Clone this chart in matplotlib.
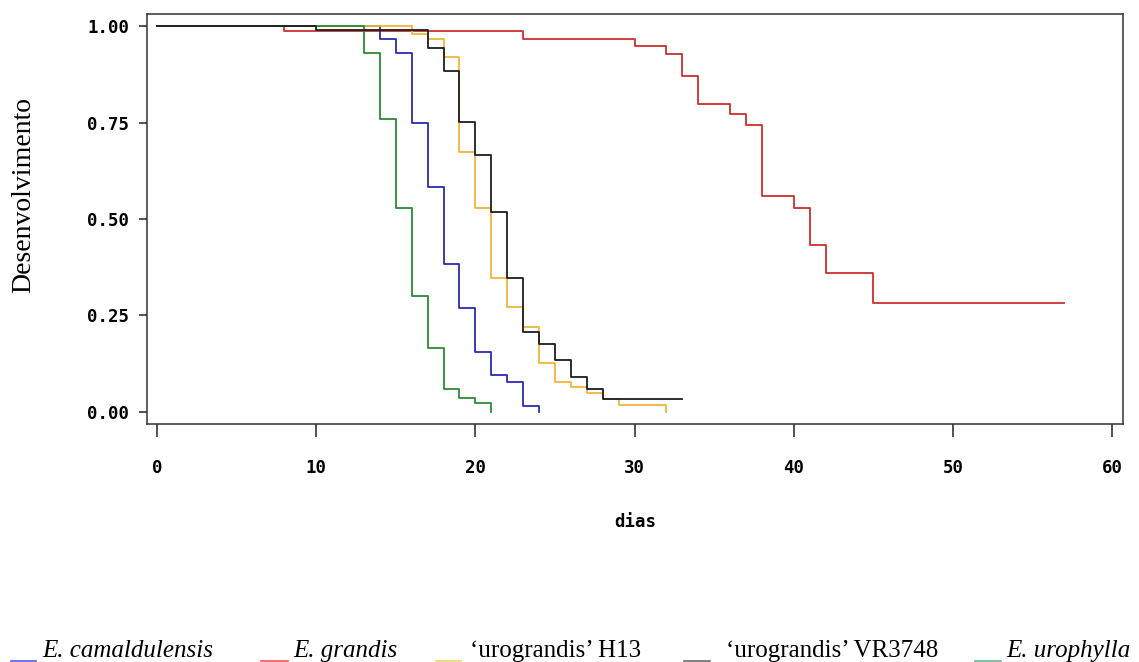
import numpy as np
import matplotlib
matplotlib.use("Agg")
import matplotlib.pyplot as plt
from matplotlib.lines import Line2D

# survival-type step curves: day of each drop and the level after it
t_grandis = [0, 8, 23, 30, 32, 33, 34, 36, 37, 38, 40, 41, 42, 45, 57]
s_grandis = [1.0, 0.988, 0.966, 0.948, 0.927, 0.870, 0.797, 0.771, 0.744,
             0.560, 0.528, 0.433, 0.359, 0.283, 0.283]

t_camal = [0, 14, 15, 16, 17, 18, 19, 20, 21, 22, 23, 24]
s_camal = [1.0, 0.966, 0.929, 0.748, 0.582, 0.383, 0.269, 0.155, 0.096,
           0.079, 0.016, 0.0]

t_h13 = [0, 16, 17, 18, 19, 20, 21, 22, 23, 24, 25, 26, 27, 28, 29, 32]
s_h13 = [1.0, 0.979, 0.967, 0.920, 0.674, 0.528, 0.346, 0.271, 0.219,
         0.128, 0.079, 0.064, 0.050, 0.033, 0.018, 0.0]

t_uro = [0, 13, 14, 15, 16, 17, 18, 19, 20, 21]
s_uro = [1.0, 0.931, 0.758, 0.528, 0.301, 0.165, 0.059, 0.035, 0.024, 0.0]

t_vr = [0, 10, 17, 18, 19, 20, 21, 22, 23, 24, 25, 26, 27, 28, 33]
s_vr = [1.0, 0.990, 0.944, 0.884, 0.752, 0.666, 0.519, 0.346, 0.206,
        0.175, 0.136, 0.090, 0.059, 0.033, 0.033]

x_ticks = [0, 10, 20, 30, 40, 50, 60]
y_ticks = [0.0, 0.25, 0.50, 0.75, 1.0]

labels = ["E. camaldulensis", "E. grandis", "\u2018urograndis\u2019 H13",
          "\u2018urograndis\u2019 VR3748", "E. urophylla"]
label_italic = [True, True, False, False, True]

c_red, c_blue, c_yel, c_grn, c_blk = "#c9302c", "#2b2bb0", "#f0b53a", "#2c8a36", "#1e1e1e"
leg_cols = ["#5a5af2", "#f05555", "#f2d46e", "#6a6a6a", "#6fb48e"]

W, H = 1139, 662
fig = plt.figure(figsize=(W / 100, H / 100), dpi=100, facecolor="white")
ax = fig.add_axes([146.7 / W, 1 - 424 / H, (1123.3 - 146.7) / W, (424 - 14) / H])

lw = 1.3
ax.step(t_grandis, s_grandis, where="post", color=c_red, lw=lw)
ax.step(t_camal, s_camal, where="post", color=c_blue, lw=lw)
ax.step(t_h13, s_h13, where="post", color=c_yel, lw=lw)
ax.step(t_uro, s_uro, where="post", color=c_grn, lw=lw)
ax.step(t_vr, s_vr, where="post", color=c_blk, lw=lw)

ax.set_xlim(-0.647, 60.70)
ax.set_ylim(-0.0311, 1.0311)

tickfont = dict(family="DejaVu Sans Mono", weight="bold", size=12.5)
ax.set_xticks(x_ticks)
ax.set_xticklabels([str(v) for v in x_ticks], **tickfont)
ax.set_yticks(y_ticks)
ax.set_yticklabels(["%.2f" % v for v in y_ticks], **tickfont)
ax.tick_params(axis="x", length=9.4, width=1.1, pad=16, color="#222222")
ax.tick_params(axis="y", length=5.8, width=1.1, pad=7, color="#222222")
for sp in ax.spines.values():
    sp.set_linewidth(1.1)
    sp.set_color("#333333")

ax.set_xlabel("dias", fontdict=tickfont, labelpad=26)

fig.text(24 / W, 1 - 195 / H, "Desenvolvimento", rotation=90, ha="center",
         va="center", family="Liberation Serif", fontsize=20)

# legend row at the foot of the figure
text_x = [42, 293, 470, 726, 1006]
line_x = [(11, 36), (261, 288), (436, 461), (684, 710), (975, 1001)]
for lab, it, tx, (x0, x1), col in zip(labels, label_italic, text_x, line_x, leg_cols):
    fig.text(tx / W, 1 - 657 / H, lab, ha="left", va="baseline",
             family="Liberation Serif", fontsize=18,
             style="italic" if it else "normal")
    fig.add_artist(Line2D([x0 / W, x1 / W], [1 - 660.5 / H] * 2,
                          color=col, lw=1.2, transform=fig.transFigure))

fig.savefig("out.png", dpi=100)
